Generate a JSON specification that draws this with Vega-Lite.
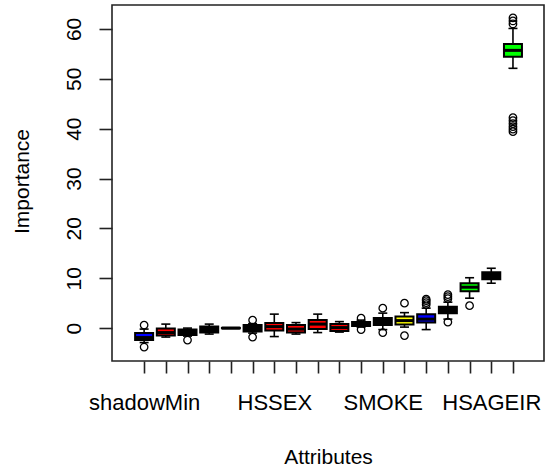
{
  "$schema": "https://vega.github.io/schema/vega-lite/v6.json",
  "autosize": {"type": "none"},
  "padding": {"left": 112, "top": 5, "right": 1, "bottom": 110},
  "width": 432,
  "height": 356,
  "background": "white",
  "config": {
    "view": {"stroke": "#222", "strokeWidth": 1.6},
    "font": "Liberation Sans"
  },
  "datasets": {
    "boxes": [
      {"idx": 1, "attribute": "shadowMin", "decision": "Shadow", "lo": -2.9, "q1": -2.4, "med": -1.9, "q3": -1.0, "hi": -0.2},
      {"idx": 2, "attribute": "attr2", "decision": "Rejected", "lo": -1.8, "q1": -1.5, "med": -0.9, "q3": -0.1, "hi": 0.8},
      {"idx": 3, "attribute": "attr3", "decision": "Other", "lo": -1.6, "q1": -1.4, "med": -0.9, "q3": -0.3, "hi": 0.0},
      {"idx": 4, "attribute": "attr4", "decision": "Other", "lo": -1.2, "q1": -0.9, "med": -0.3, "q3": 0.3, "hi": 0.8},
      {"idx": 5, "attribute": "attr5", "decision": "Other", "lo": 0.0, "q1": -0.05, "med": 0.0, "q3": 0.05, "hi": 0.0},
      {"idx": 6, "attribute": "attr6", "decision": "Other", "lo": -1.0, "q1": -0.7, "med": 0.1, "q3": 0.6, "hi": 0.9},
      {"idx": 7, "attribute": "HSSEX", "decision": "Rejected", "lo": -1.7, "q1": -0.5, "med": 0.3, "q3": 1.0, "hi": 2.8},
      {"idx": 8, "attribute": "attr8", "decision": "Rejected", "lo": -1.2, "q1": -0.9, "med": -0.2, "q3": 0.6, "hi": 1.1},
      {"idx": 9, "attribute": "attr9", "decision": "Rejected", "lo": -0.9, "q1": -0.2, "med": 0.8, "q3": 1.6, "hi": 2.8},
      {"idx": 10, "attribute": "attr10", "decision": "Rejected", "lo": -0.8, "q1": -0.6, "med": 0.1, "q3": 0.8, "hi": 1.3},
      {"idx": 11, "attribute": "attr11", "decision": "Other", "lo": 0.2, "q1": 0.4, "med": 0.8, "q3": 1.2, "hi": 1.6},
      {"idx": 12, "attribute": "SMOKE", "decision": "Other", "lo": -0.3, "q1": 0.6, "med": 1.3, "q3": 2.0, "hi": 3.0},
      {"idx": 13, "attribute": "attr13", "decision": "Tentative", "lo": 0.2, "q1": 0.7, "med": 1.5, "q3": 2.3, "hi": 3.1},
      {"idx": 14, "attribute": "shadowMax", "decision": "Shadow", "lo": -0.3, "q1": 1.1, "med": 1.8, "q3": 2.8, "hi": 4.0},
      {"idx": 15, "attribute": "attr15", "decision": "Other", "lo": 1.8, "q1": 3.0, "med": 3.6, "q3": 4.3, "hi": 5.2},
      {"idx": 16, "attribute": "attr16", "decision": "Confirmed", "lo": 6.0, "q1": 7.4, "med": 8.2, "q3": 9.0, "hi": 10.1},
      {"idx": 17, "attribute": "HSAGEIR", "decision": "Other", "lo": 9.0, "q1": 9.8, "med": 10.5, "q3": 11.2, "hi": 12.0},
      {"idx": 18, "attribute": "attr18", "decision": "Confirmed", "lo": 52.1, "q1": 54.4, "med": 55.7, "q3": 57.0, "hi": 60.1}
    ],
    "outliers": [
      {"idx": 1, "value": 0.6}, {"idx": 1, "value": -3.8},
      {"idx": 3, "value": -2.4},
      {"idx": 6, "value": 1.6}, {"idx": 6, "value": -1.8},
      {"idx": 11, "value": 2.0}, {"idx": 11, "value": -0.3},
      {"idx": 12, "value": 4.0}, {"idx": 12, "value": -0.9},
      {"idx": 13, "value": 5.0}, {"idx": 13, "value": -1.5},
      {"idx": 14, "value": 4.7}, {"idx": 14, "value": 5.1}, {"idx": 14, "value": 5.5}, {"idx": 14, "value": 5.8},
      {"idx": 15, "value": 5.9}, {"idx": 15, "value": 6.3}, {"idx": 15, "value": 6.7}, {"idx": 15, "value": 1.2},
      {"idx": 16, "value": 4.5},
      {"idx": 18, "value": 61.0}, {"idx": 18, "value": 61.6}, {"idx": 18, "value": 62.2},
      {"idx": 18, "value": 42.2}, {"idx": 18, "value": 41.6}, {"idx": 18, "value": 41.0},
      {"idx": 18, "value": 40.4}, {"idx": 18, "value": 39.9}, {"idx": 18, "value": 39.4}
    ]
  },
  "layer": [
    {
      "data": {"name": "boxes"},
      "mark": {"type": "rule", "color": "black", "strokeWidth": 1.6},
      "encoding": {
        "x": {
          "field": "idx", "type": "quantitative",
          "scale": {"domain": [-0.25, 19.2], "nice": false, "zero": false},
          "axis": {
            "title": "Attributes",
            "values": [1,2,3,4,5,6,7,8,9,10,11,12,13,14,15,16,17,18],
            "tickCount": 40,
            "labelExpr": "datum.value == 1 ? 'shadowMin' : datum.value == 7 ? 'HSSEX' : datum.value == 12 ? 'SMOKE' : datum.value == 17 ? 'HSAGEIR' : ''",
            "grid": false, "domain": false,
            "tickSize": 12, "tickWidth": 1.6, "tickColor": "#222",
            "labelFontSize": 22, "labelColor": "black", "labelFont": "Liberation Sans",
            "labelBaseline": "alphabetic", "labelPadding": 36, "labelAlign": "center",
            "labelOverlap": false, "labelFlush": false,
            "titleFontSize": 21, "titleFontWeight": "normal", "titleColor": "black", "titleFont": "Liberation Sans",
            "titleX": 216, "titleY": 102, "titleBaseline": "alphabetic", "titleAlign": "center"
          }
        },
        "y": {
          "field": "lo", "type": "quantitative",
          "scale": {"domain": [-6.6, 64.8], "nice": false, "zero": false},
          "axis": {
            "title": "Importance",
            "values": [0, 10, 20, 30, 40, 50, 60],
            "tickCount": 20,
            "grid": false, "domain": false,
            "tickSize": 13, "tickWidth": 1.6, "tickColor": "#222",
            "labelFontSize": 21, "labelColor": "black", "labelFont": "Liberation Sans",
            "labelAngle": -90, "labelAlign": "center", "labelBaseline": "alphabetic", "labelPadding": 19,
            "labelOverlap": false,
            "titleFontSize": 21, "titleFontWeight": "normal", "titleColor": "black", "titleFont": "Liberation Sans",
            "titleAngle": -90, "titleX": -90, "titleY": 176, "titleAlign": "center", "titleBaseline": "middle"
          }
        },
        "y2": {"field": "hi"}
      }
    },
    {
      "data": {"name": "boxes"},
      "mark": {"type": "tick", "orient": "horizontal", "color": "black", "size": 9, "thickness": 1.6, "opacity": 1},
      "encoding": {
        "x": {"field": "idx", "type": "quantitative"},
        "y": {"field": "lo", "type": "quantitative"}
      }
    },
    {
      "data": {"name": "boxes"},
      "mark": {"type": "tick", "orient": "horizontal", "color": "black", "size": 9, "thickness": 1.6, "opacity": 1},
      "encoding": {
        "x": {"field": "idx", "type": "quantitative"},
        "y": {"field": "hi", "type": "quantitative"}
      }
    },
    {
      "data": {"name": "boxes"},
      "mark": {"type": "bar", "width": 18, "stroke": "black", "strokeWidth": 2, "opacity": 1},
      "encoding": {
        "x": {"field": "idx", "type": "quantitative"},
        "y": {"field": "q1", "type": "quantitative"},
        "y2": {"field": "q3"},
        "fill": {
          "field": "decision", "type": "nominal",
          "scale": {"domain": ["Shadow", "Rejected", "Tentative", "Confirmed", "Other"], "range": ["#0000ff", "#ff0000", "#ffff00", "#00ff00", "#000000"]},
          "legend": null
        }
      }
    },
    {
      "data": {"name": "boxes"},
      "mark": {"type": "tick", "orient": "horizontal", "color": "black", "size": 18, "thickness": 3, "opacity": 1},
      "encoding": {
        "x": {"field": "idx", "type": "quantitative"},
        "y": {"field": "med", "type": "quantitative"}
      }
    },
    {
      "data": {"name": "outliers"},
      "mark": {"type": "point", "shape": "circle", "filled": false, "stroke": "black", "strokeWidth": 1.3, "size": 56, "opacity": 1},
      "encoding": {
        "x": {"field": "idx", "type": "quantitative"},
        "y": {"field": "value", "type": "quantitative"}
      }
    }
  ]
}
